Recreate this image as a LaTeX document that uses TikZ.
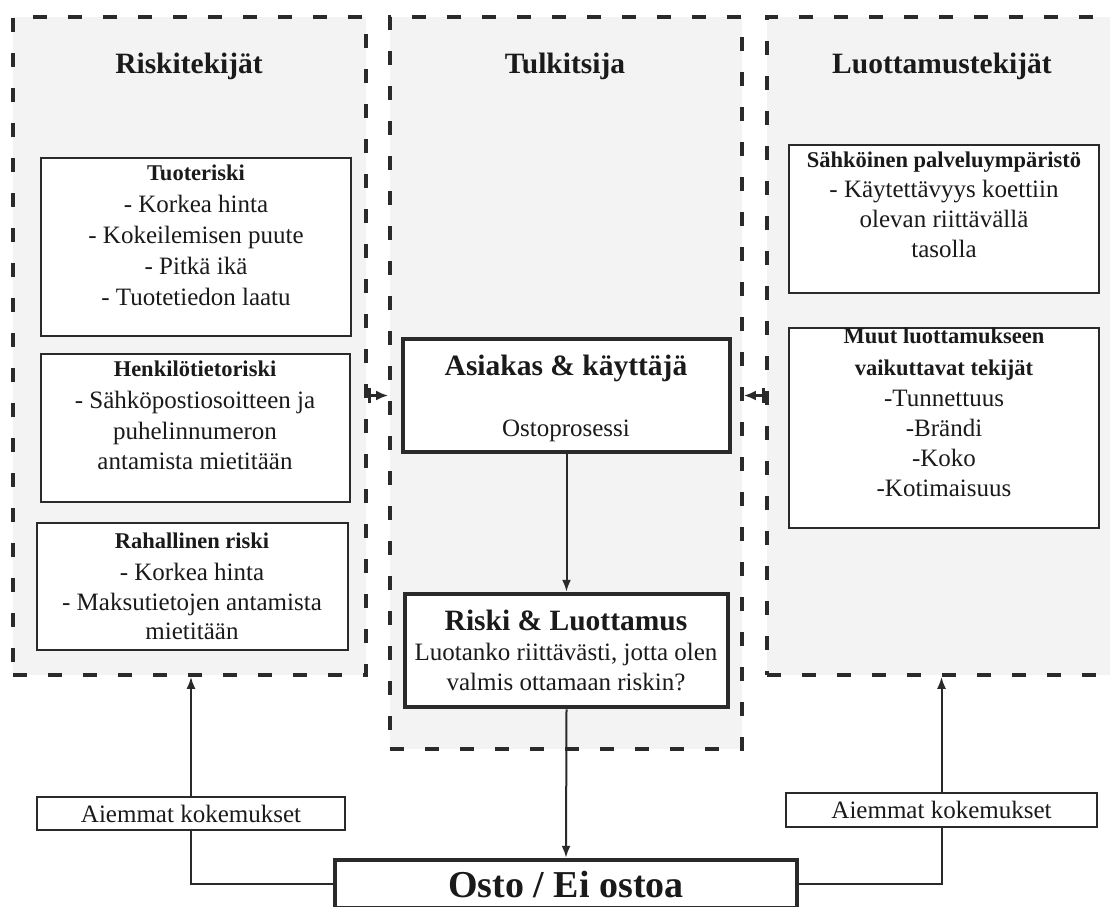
\documentclass[tikz,border=0pt]{standalone}
\usepackage{fontspec}
\setmainfont{Liberation Serif}
\usetikzlibrary{arrows.meta,fit}

\definecolor{ink}{HTML}{1A1A1A}
\definecolor{edge}{HTML}{2A2A2A}
\definecolor{panel}{HTML}{F3F3F3}

\begin{document}
\begin{tikzpicture}[x=1pt,y=-1pt,
  group/.style={draw=edge, line width=3.6pt, dash pattern=on 14pt off 21pt,
                fill=panel, inner sep=0pt},
  factor/.style={draw=edge, line width=2pt, fill=white, inner sep=0pt},
  core/.style={draw=edge, line width=4.5pt, fill=white, inner sep=0pt},
  heading/.style={font=\fontsize{29.5}{34}\selectfont\bfseries, text=ink,
                  inner sep=0pt, anchor=north},
  subhead/.style={font=\fontsize{22.5}{32}\selectfont\bfseries, text=ink,
                  align=center, inner sep=0pt, anchor=north},
  body/.style={font=\fontsize{25}{30.5}\selectfont, text=ink,
               align=center, inner sep=0pt, anchor=north},
  flow/.style={draw=edge, line width=2pt, -{Latex[length=12pt,width=9pt]}},
  link/.style={draw=edge, line width=2pt},
  feed/.style={draw=edge, line width=2.5pt,
               {Bar[width=15pt,line width=3pt]}-{Latex[length=12pt,width=10pt]}}
]
\useasboundingbox (0,0) rectangle (1110,906);

% ---- three dashed panels
\node[group, fit={(13,17) (366,675)}] (riskpanel) {};
\node[group, fit={(390,17) (742,749)}] (midpanel) {};
\node[group, fit={(767,17) (1126,675)}] (trustpanel) {};

\node[heading] (risktitle) at (189,53) {Riskitekijät};
\node[heading] (midtitle) at (565,53) {Tulkitsija};
\node[heading] (trusttitle) at (942,53) {Luottamustekijät};

% ---- risk factors
\node[factor, fit={(41,158) (351,336)}] (tuote) {};
\node[subhead] (tuotehead) at (196,165) {Tuoteriski};
\node[body, font=\fontsize{25}{31}\selectfont] (tuotebody) at (196,195)
  {- Korkea hinta\\- Kokeilemisen puute\\- Pitkä ikä\\- Tuotetiedon laatu};

\node[factor, fit={(41,354) (350,502)}] (henk) {};
\node[subhead] (henkhead) at (195,361) {Henkilötietoriski};
\node[body] (henkbody) at (195,391)
  {- Sähköpostiosoitteen ja\\puhelinnumeron\\antamista mietitään};

\node[factor, fit={(37,523) (348,650)}] (raha) {};
\node[subhead] (rahahead) at (192,533) {Rahallinen riski};
\node[body, font=\fontsize{25}{29.5}\selectfont] (rahabody) at (192,563)
  {- Korkea hinta\\- Maksutietojen antamista\\mietitään};

% ---- trust factors
\node[factor, fit={(789,145) (1099,293)}] (sahko) {};
\node[subhead] (sahkohead) at (944,152) {Sähköinen palveluympäristö};
\node[body, font=\fontsize{25}{30}\selectfont] (sahkobody) at (944,180)
  {- Käytettävyys koettiin\\olevan riittävällä\\tasolla};

\node[factor, fit={(789,328) (1099,528)}] (muut) {};
\node[subhead] (muuthead) at (944,328) {Muut luottamukseen\\vaikuttavat tekijät};
\node[body, font=\fontsize{25}{30}\selectfont] (muutbody) at (944,390)
  {-Tunnettuus\\-Brändi\\-Koko\\-Kotimaisuus};

% ---- interpreter
\node[core, fit={(403,339) (730,452)}] (asiakas) {};
\node[heading] (asiakashead) at (566,355) {Asiakas \& käyttäjä};
\node[body] (asiakasbody) at (566,420) {Ostoprosessi};

\node[core, fit={(405,594) (728,707)}] (riski) {};
\node[heading] (riskihead) at (566,610) {Riski \& Luottamus};
\node[body, font=\fontsize{25}{30}\selectfont] (riskibody) at (566,643)
  {Luotanko riittävästi, jotta olen\\valmis ottamaan riskin?};

% ---- outcome and earlier experience
\node[core, fit={(335,860) (797,908)}] (osto) {};
\node[heading, font=\fontsize{38}{40}\selectfont\bfseries] (ostotext) at (566,871)
  {Osto / Ei ostoa};

\node[factor, fit={(37,797) (345,830)}] (aiemL) {};
\node[body] (aiemLtext) at (191,805) {Aiemmat kokemukset};
\node[factor, fit={(786,793) (1097,827)}] (aiemR) {};
\node[body] (aiemRtext) at (941.5,801) {Aiemmat kokemukset};

% ---- connectors
\draw[flow] (asiakas.south) -- (riski.north);
\draw[flow] (riski.south) -- (osto.north);

\draw[feed] (riskpanel.east |- asiakas.center) -- (midpanel.west |- asiakas.center);
\draw[feed] (trustpanel.west |- asiakas.center) -- (midpanel.east |- asiakas.center);

\draw[link] (osto.west) -| (aiemL.south);
\draw[flow] (aiemL.north) -- (aiemL.north |- riskpanel.south);
\draw[link] (osto.east) -| (aiemR.south);
\draw[flow] (aiemR.north) -- (aiemR.north |- trustpanel.south);
\end{tikzpicture}
\end{document}
